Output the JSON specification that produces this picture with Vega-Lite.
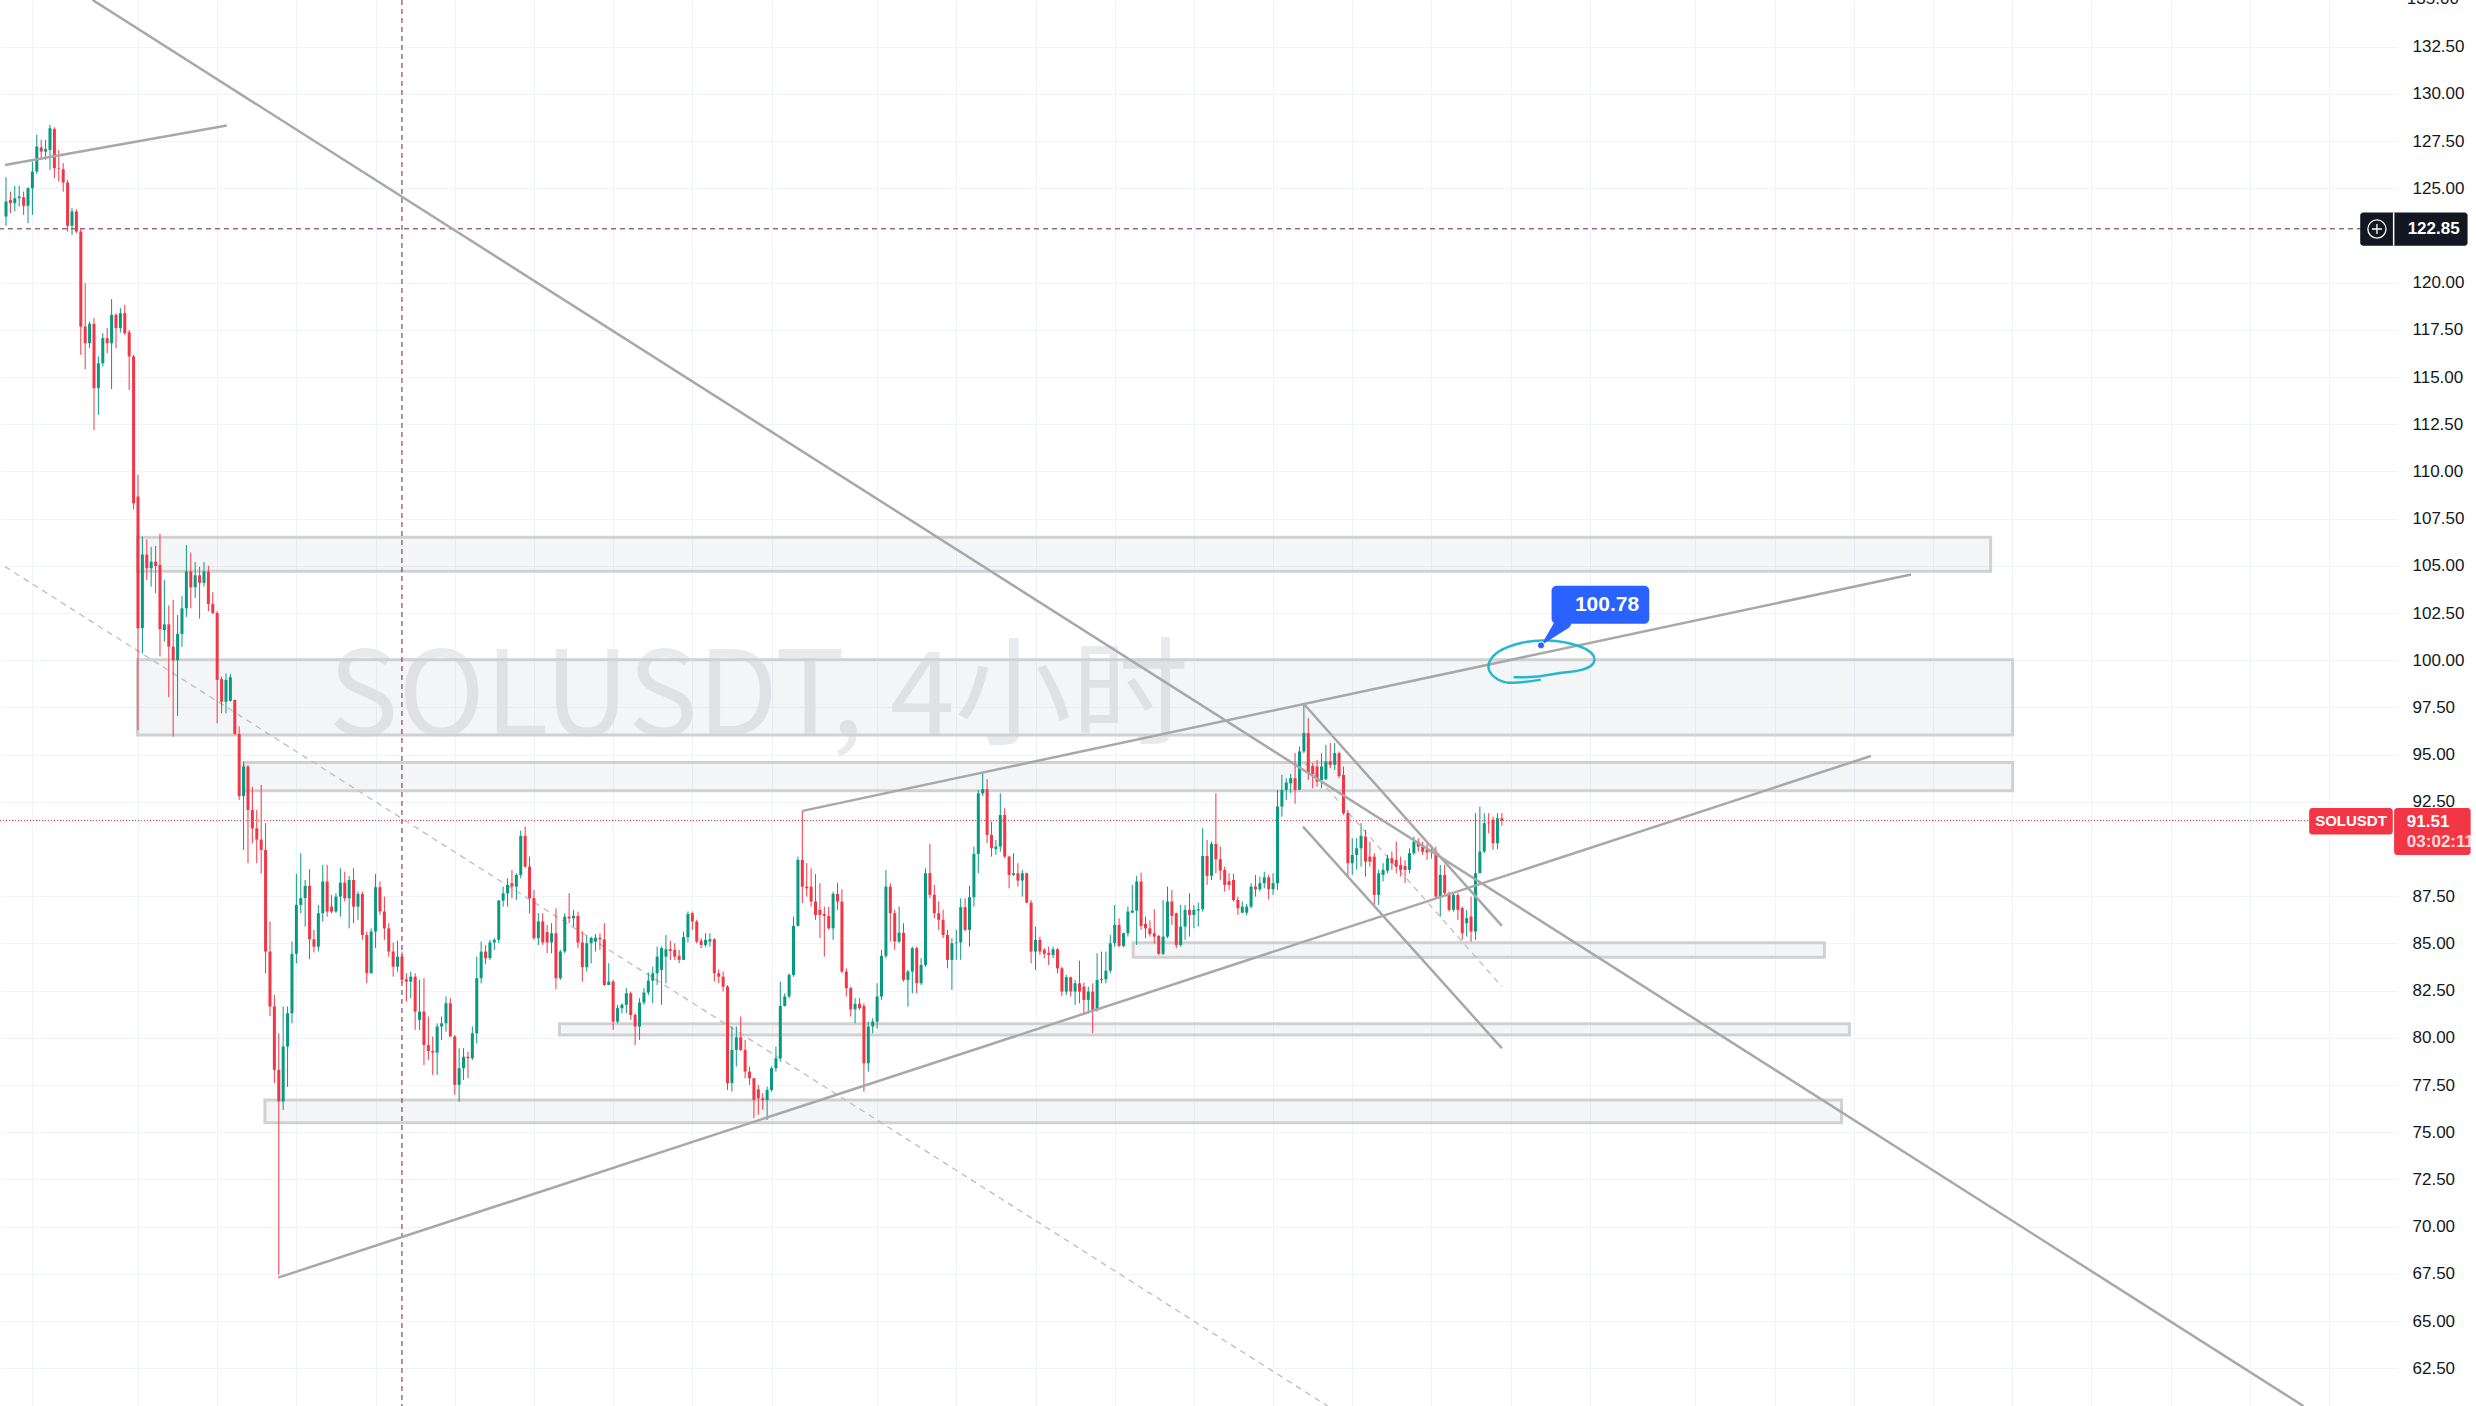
{
"$schema": "https://vega.github.io/schema/vega-lite/v6.json",
"width": 2398, "height": 1406,
"autosize": {"type": "none"},
"padding": {"left": 0, "top": 0, "right": 78, "bottom": 0},
"background": "white",
"config": {"view": {"stroke": null}},
"datasets": {
"candles": [
{"i":0,"o":123.5,"h":125.58,"l":123.01,"c":124.3},{"i":1,"o":124.38,"h":124.82,"l":123.68,"c":124.21},{"i":2,"o":124.21,"h":125.13,"l":123.77,"c":124.47},{"i":3,"o":124.47,"h":125.13,"l":124.03,"c":124.56},{"i":4,"o":124.52,"h":124.82,"l":123.59,"c":124.07},{"i":5,"o":124.07,"h":125.05,"l":123.15,"c":125.0},{"i":6,"o":125.0,"h":126.41,"l":123.59,"c":125.88},{"i":7,"o":125.88,"h":127.83,"l":125.76,"c":127.21},{"i":8,"o":127.16,"h":127.56,"l":126.5,"c":126.94},{"i":9,"o":126.94,"h":127.56,"l":126.5,"c":127.07},
{"i":10,"o":127.03,"h":128.36,"l":125.97,"c":128.18},{"i":11,"o":128.13,"h":128.23,"l":125.53,"c":126.06},{"i":12,"o":126.06,"h":127.03,"l":125.35,"c":126.03},{"i":13,"o":126.01,"h":126.33,"l":124.82,"c":125.3},{"i":14,"o":125.3,"h":125.44,"l":122.71,"c":123.01},{"i":15,"o":123.01,"h":123.94,"l":122.53,"c":123.77},{"i":16,"o":123.77,"h":123.89,"l":122.62,"c":122.71},{"i":17,"o":122.71,"h":122.88,"l":116.17,"c":117.67},{"i":18,"o":117.67,"h":119.97,"l":115.41,"c":116.79},{"i":19,"o":116.79,"h":117.94,"l":116.53,"c":117.82},
{"i":20,"o":117.82,"h":118.12,"l":112.2,"c":114.41},{"i":21,"o":114.41,"h":116.09,"l":113.0,"c":115.73},{"i":22,"o":115.73,"h":117.32,"l":115.56,"c":117.06},{"i":23,"o":117.06,"h":117.59,"l":116.26,"c":116.79},{"i":24,"o":116.79,"h":119.12,"l":114.36,"c":118.29},{"i":25,"o":118.29,"h":118.38,"l":116.53,"c":117.59},{"i":26,"o":117.59,"h":118.65,"l":117.36,"c":118.38},{"i":27,"o":118.38,"h":118.82,"l":117.23,"c":117.32},{"i":28,"o":117.37,"h":117.5,"l":114.32,"c":116.09},{"i":29,"o":116.09,"h":116.18,"l":108.0,"c":108.31},
{"i":30,"o":108.67,"h":109.82,"l":96.3,"c":101.69},{"i":31,"o":101.7,"h":106.55,"l":100.37,"c":105.6},{"i":32,"o":105.6,"h":106.4,"l":104.25,"c":104.87},{"i":33,"o":104.87,"h":106.0,"l":103.9,"c":105.22},{"i":34,"o":105.22,"h":106.05,"l":103.55,"c":104.99},{"i":35,"o":105.05,"h":106.7,"l":100.2,"c":101.64},{"i":36,"o":101.6,"h":104.25,"l":100.99,"c":101.9},{"i":37,"o":101.9,"h":102.9,"l":98.04,"c":100.72},{"i":38,"o":100.72,"h":103.2,"l":95.95,"c":100.0},{"i":39,"o":100.0,"h":102.4,"l":97.05,"c":101.4},
{"i":40,"o":101.4,"h":103.4,"l":100.7,"c":102.75},{"i":41,"o":102.75,"h":106.1,"l":102.3,"c":104.7},{"i":42,"o":104.7,"h":105.7,"l":102.75,"c":103.86},{"i":43,"o":103.86,"h":105.2,"l":103.3,"c":104.5},{"i":44,"o":104.5,"h":104.96,"l":102.2,"c":104.1},{"i":45,"o":104.1,"h":105.2,"l":103.9,"c":104.7},{"i":46,"o":104.7,"h":105.0,"l":102.6,"c":102.98},{"i":47,"o":102.98,"h":103.6,"l":102.45,"c":102.5},{"i":48,"o":102.5,"h":102.6,"l":96.66,"c":98.96},{"i":49,"o":99.0,"h":99.13,"l":97.19,"c":97.8},
{"i":50,"o":97.8,"h":99.3,"l":97.19,"c":98.96},{"i":51,"o":97.85,"h":99.27,"l":97.8,"c":99.1},{"i":52,"o":97.9,"h":97.9,"l":96.04,"c":96.1},{"i":53,"o":96.1,"h":96.5,"l":92.6,"c":92.8},{"i":54,"o":92.8,"h":94.63,"l":89.95,"c":94.37},{"i":55,"o":94.37,"h":94.45,"l":89.25,"c":92.07},{"i":56,"o":92.07,"h":93.3,"l":90.3,"c":91.1},{"i":57,"o":91.1,"h":92.07,"l":89.25,"c":90.5},{"i":58,"o":90.5,"h":93.4,"l":88.7,"c":89.95},{"i":59,"o":89.95,"h":91.37,"l":83.42,"c":84.57},
{"i":60,"o":84.57,"h":86.16,"l":81.16,"c":81.66},{"i":61,"o":81.66,"h":82.27,"l":77.6,"c":78.3},{"i":62,"o":78.3,"h":80.24,"l":67.45,"c":76.63},{"i":63,"o":76.63,"h":81.66,"l":76.18,"c":79.54},{"i":64,"o":79.54,"h":81.66,"l":77.4,"c":81.3},{"i":65,"o":81.3,"h":85.1,"l":80.77,"c":84.45},{"i":66,"o":84.45,"h":88.68,"l":83.95,"c":87.04},{"i":67,"o":87.04,"h":89.78,"l":86.6,"c":87.4},{"i":68,"o":87.4,"h":88.36,"l":85.89,"c":88.05},{"i":69,"o":88.05,"h":88.93,"l":84.16,"c":85.22},
{"i":70,"o":85.22,"h":85.72,"l":84.52,"c":84.83},{"i":71,"o":84.83,"h":87.04,"l":84.57,"c":86.6},{"i":72,"o":86.6,"h":89.16,"l":86.16,"c":88.28},{"i":73,"o":88.28,"h":89.16,"l":86.42,"c":86.69},{"i":74,"o":86.95,"h":87.57,"l":86.6,"c":86.69},{"i":75,"o":86.69,"h":87.66,"l":86.63,"c":87.48},{"i":76,"o":87.48,"h":88.98,"l":86.42,"c":88.22},{"i":77,"o":88.22,"h":88.8,"l":87.22,"c":87.39},{"i":78,"o":87.39,"h":88.57,"l":85.8,"c":88.36},{"i":79,"o":88.36,"h":88.98,"l":86.07,"c":86.95},
{"i":80,"o":86.95,"h":87.75,"l":86.25,"c":87.62},{"i":81,"o":87.62,"h":87.75,"l":85.19,"c":85.45},{"i":82,"o":85.45,"h":85.63,"l":82.89,"c":83.42},{"i":83,"o":83.42,"h":85.8,"l":83.42,"c":85.63},{"i":84,"o":85.63,"h":88.68,"l":84.75,"c":87.98},{"i":85,"o":87.98,"h":88.28,"l":86.51,"c":86.69},{"i":86,"o":86.69,"h":87.48,"l":85.19,"c":85.8},{"i":87,"o":85.8,"h":86.07,"l":84.3,"c":84.57},{"i":88,"o":84.57,"h":85.05,"l":83.24,"c":83.77},{"i":89,"o":83.77,"h":85.15,"l":83.51,"c":84.3},
{"i":90,"o":84.3,"h":84.57,"l":82.89,"c":83.07},{"i":91,"o":83.1,"h":83.42,"l":81.92,"c":82.98},{"i":92,"o":82.98,"h":83.51,"l":82.1,"c":83.24},{"i":93,"o":83.24,"h":83.42,"l":80.42,"c":81.39},{"i":94,"o":80.95,"h":83.07,"l":80.42,"c":81.39},{"i":95,"o":81.39,"h":83.16,"l":78.56,"c":79.62},{"i":96,"o":79.62,"h":81.13,"l":78.83,"c":79.3},{"i":97,"o":79.3,"h":80.07,"l":78.04,"c":79.22},{"i":98,"o":79.22,"h":80.77,"l":78.04,"c":80.6},{"i":99,"o":80.6,"h":81.13,"l":79.89,"c":80.77},
{"i":100,"o":80.77,"h":82.19,"l":80.33,"c":81.83},{"i":101,"o":81.83,"h":82.1,"l":80.07,"c":80.07},{"i":102,"o":80.07,"h":80.15,"l":76.98,"c":77.51},{"i":103,"o":77.51,"h":79.45,"l":76.62,"c":78.39},{"i":104,"o":78.39,"h":79.45,"l":77.77,"c":79.0},{"i":105,"o":79.0,"h":79.27,"l":77.86,"c":78.92},{"i":106,"o":78.92,"h":80.6,"l":78.83,"c":80.24},{"i":107,"o":80.24,"h":84.3,"l":79.71,"c":83.16},{"i":108,"o":83.16,"h":85.1,"l":82.89,"c":84.57},{"i":109,"o":84.57,"h":84.9,"l":83.9,"c":84.22},
{"i":110,"o":84.22,"h":85.19,"l":84.13,"c":85.05},{"i":111,"o":85.05,"h":85.28,"l":84.66,"c":85.19},{"i":112,"o":85.19,"h":87.3,"l":85.01,"c":87.27},{"i":113,"o":87.27,"h":88.01,"l":86.95,"c":87.66},{"i":114,"o":87.66,"h":88.45,"l":86.95,"c":88.1},{"i":115,"o":88.19,"h":88.89,"l":87.39,"c":88.01},{"i":116,"o":88.01,"h":88.72,"l":87.3,"c":88.63},{"i":117,"o":88.63,"h":90.98,"l":88.45,"c":90.7},{"i":118,"o":90.7,"h":91.19,"l":88.98,"c":89.07},{"i":119,"o":89.07,"h":89.6,"l":86.6,"c":87.4},
{"i":120,"o":87.4,"h":87.83,"l":85.19,"c":85.28},{"i":121,"o":85.28,"h":86.6,"l":84.92,"c":86.16},{"i":122,"o":86.16,"h":86.6,"l":84.92,"c":85.05},{"i":123,"o":85.6,"h":85.98,"l":84.48,"c":85.05},{"i":124,"o":85.05,"h":86.07,"l":84.48,"c":85.54},{"i":125,"o":85.54,"h":86.86,"l":82.57,"c":83.16},{"i":126,"o":83.16,"h":84.66,"l":83.07,"c":84.57},{"i":127,"o":84.57,"h":86.6,"l":84.48,"c":86.42},{"i":128,"o":86.42,"h":87.66,"l":86.07,"c":86.33},{"i":129,"o":86.33,"h":86.78,"l":85.89,"c":86.46},
{"i":130,"o":86.46,"h":86.69,"l":84.75,"c":85.05},{"i":131,"o":85.05,"h":85.63,"l":82.98,"c":83.74},{"i":132,"o":83.74,"h":85.45,"l":83.51,"c":85.01},{"i":133,"o":85.01,"h":85.36,"l":83.95,"c":85.28},{"i":134,"o":85.1,"h":85.5,"l":84.57,"c":85.3},{"i":135,"o":85.3,"h":85.54,"l":84.66,"c":85.22},{"i":136,"o":85.22,"h":86.07,"l":82.75,"c":82.8},{"i":137,"o":82.8,"h":83.95,"l":82.8,"c":82.98},{"i":138,"o":82.98,"h":83.07,"l":80.42,"c":80.86},{"i":139,"o":80.86,"h":81.75,"l":80.77,"c":81.57},
{"i":140,"o":81.57,"h":81.83,"l":81.3,"c":81.75},{"i":141,"o":81.75,"h":82.63,"l":81.3,"c":82.36},{"i":142,"o":82.36,"h":82.45,"l":80.95,"c":81.21},{"i":143,"o":81.21,"h":81.3,"l":79.62,"c":80.6},{"i":144,"o":80.6,"h":82.1,"l":79.89,"c":81.87},{"i":145,"o":81.87,"h":82.63,"l":81.75,"c":82.4},{"i":146,"o":82.4,"h":83.46,"l":82.27,"c":83.03},{"i":147,"o":83.03,"h":83.77,"l":81.83,"c":83.42},{"i":148,"o":83.42,"h":84.83,"l":82.8,"c":84.3},{"i":149,"o":83.6,"h":84.83,"l":81.75,"c":84.75},
{"i":150,"o":84.3,"h":85.45,"l":82.89,"c":84.69},{"i":151,"o":84.69,"h":85.15,"l":84.13,"c":84.6},{"i":152,"o":84.66,"h":85.01,"l":84.13,"c":84.3},{"i":153,"o":84.34,"h":84.66,"l":83.95,"c":84.13},{"i":154,"o":84.13,"h":85.63,"l":84.13,"c":85.33},{"i":155,"o":85.33,"h":86.69,"l":85.05,"c":86.56},{"i":156,"o":86.6,"h":86.69,"l":85.72,"c":86.16},{"i":157,"o":86.16,"h":86.25,"l":85.01,"c":85.1},{"i":158,"o":85.15,"h":85.28,"l":84.75,"c":84.92},{"i":159,"o":84.92,"h":85.54,"l":84.83,"c":85.19},
{"i":160,"o":85.1,"h":85.54,"l":84.83,"c":85.22},{"i":161,"o":85.22,"h":85.28,"l":82.98,"c":83.42},{"i":162,"o":83.42,"h":83.63,"l":82.89,"c":83.24},{"i":163,"o":83.24,"h":83.51,"l":82.45,"c":82.71},{"i":164,"o":82.71,"h":82.8,"l":77.24,"c":77.6},{"i":165,"o":77.6,"h":80.6,"l":77.15,"c":79.36},{"i":166,"o":79.36,"h":80.6,"l":78.48,"c":80.03},{"i":167,"o":80.03,"h":81.13,"l":79.3,"c":79.36},{"i":168,"o":79.36,"h":79.89,"l":77.86,"c":78.21},{"i":169,"o":78.21,"h":78.48,"l":77.51,"c":77.86},
{"i":170,"o":77.86,"h":77.86,"l":75.74,"c":76.71},{"i":171,"o":77.27,"h":77.51,"l":75.92,"c":76.8},{"i":172,"o":76.8,"h":77.07,"l":76.18,"c":76.71},{"i":173,"o":76.71,"h":77.42,"l":75.65,"c":77.24},{"i":174,"o":77.24,"h":78.48,"l":77.15,"c":78.39},{"i":175,"o":78.39,"h":79.54,"l":78.21,"c":78.92},{"i":176,"o":78.92,"h":82.98,"l":78.74,"c":81.69},{"i":177,"o":81.69,"h":82.36,"l":81.66,"c":82.19},{"i":178,"o":82.19,"h":83.42,"l":82.1,"c":83.33},{"i":179,"o":83.33,"h":86.42,"l":83.24,"c":85.93},
{"i":180,"o":85.93,"h":89.6,"l":85.89,"c":89.42},{"i":181,"o":89.42,"h":92.04,"l":87.13,"c":88.01},{"i":182,"o":88.01,"h":89.25,"l":87.48,"c":87.92},{"i":183,"o":88.01,"h":88.98,"l":86.95,"c":87.22},{"i":184,"o":87.22,"h":88.68,"l":86.25,"c":86.51},{"i":185,"o":86.78,"h":88.19,"l":85.28,"c":86.51},{"i":186,"o":86.56,"h":86.95,"l":84.3,"c":86.46},{"i":187,"o":86.46,"h":86.95,"l":85.72,"c":85.8},{"i":188,"o":85.8,"h":87.75,"l":85.19,"c":87.62},{"i":189,"o":87.62,"h":88.22,"l":86.78,"c":87.22},
{"i":190,"o":87.22,"h":87.87,"l":83.42,"c":83.51},{"i":191,"o":83.51,"h":83.68,"l":82.19,"c":82.63},{"i":192,"o":82.63,"h":82.71,"l":81.13,"c":81.51},{"i":193,"o":81.51,"h":82.1,"l":80.77,"c":81.8},{"i":194,"o":81.8,"h":82.1,"l":81.48,"c":81.57},{"i":195,"o":81.69,"h":81.83,"l":77.15,"c":78.65},{"i":196,"o":78.65,"h":80.86,"l":78.21,"c":80.6},{"i":197,"o":80.6,"h":81.04,"l":80.24,"c":80.86},{"i":198,"o":80.86,"h":82.89,"l":80.5,"c":82.19},{"i":199,"o":82.19,"h":84.66,"l":82.01,"c":84.34},
{"i":200,"o":84.34,"h":88.89,"l":84.22,"c":88.01},{"i":201,"o":88.01,"h":88.19,"l":85.1,"c":86.6},{"i":202,"o":86.6,"h":86.78,"l":84.66,"c":85.1},{"i":203,"o":85.1,"h":86.95,"l":85.01,"c":85.57},{"i":204,"o":85.57,"h":86.07,"l":82.98,"c":83.07},{"i":205,"o":83.07,"h":83.6,"l":81.66,"c":83.51},{"i":206,"o":83.51,"h":84.83,"l":82.36,"c":84.75},{"i":207,"o":84.75,"h":84.83,"l":82.36,"c":82.89},{"i":208,"o":82.89,"h":84.22,"l":82.8,"c":83.86},{"i":209,"o":83.86,"h":88.98,"l":83.77,"c":88.72},
{"i":210,"o":88.72,"h":90.27,"l":87.39,"c":87.57},{"i":211,"o":87.57,"h":88.1,"l":86.33,"c":86.6},{"i":212,"o":86.6,"h":87.22,"l":85.72,"c":86.25},{"i":213,"o":86.25,"h":86.78,"l":85.28,"c":85.45},{"i":214,"o":85.45,"h":85.72,"l":83.68,"c":84.13},{"i":215,"o":84.13,"h":85.28,"l":82.54,"c":85.01},{"i":216,"o":85.01,"h":85.72,"l":84.13,"c":85.05},{"i":217,"o":85.05,"h":87.39,"l":84.13,"c":86.92},{"i":218,"o":86.92,"h":87.39,"l":85.63,"c":85.72},{"i":219,"o":85.72,"h":88.05,"l":84.83,"c":87.45},
{"i":220,"o":87.45,"h":90.13,"l":86.95,"c":89.74},{"i":221,"o":89.74,"h":93.13,"l":88.72,"c":92.95},{"i":222,"o":92.95,"h":94.05,"l":92.8,"c":93.17},{"i":223,"o":93.17,"h":93.7,"l":90.31,"c":90.75},{"i":224,"o":90.75,"h":91.45,"l":89.6,"c":90.04},{"i":225,"o":90.0,"h":90.48,"l":89.69,"c":90.13},{"i":226,"o":90.13,"h":92.95,"l":89.86,"c":91.8},{"i":227,"o":91.8,"h":92.16,"l":89.51,"c":89.6},{"i":228,"o":89.6,"h":89.63,"l":87.92,"c":88.63},{"i":229,"o":88.63,"h":89.78,"l":88.58,"c":88.72},
{"i":230,"o":88.72,"h":89.25,"l":88.01,"c":88.33},{"i":231,"o":88.33,"h":88.89,"l":87.48,"c":88.72},{"i":232,"o":88.72,"h":88.75,"l":87.13,"c":87.16},{"i":233,"o":87.16,"h":87.3,"l":83.95,"c":84.57},{"i":234,"o":84.57,"h":85.89,"l":83.6,"c":85.19},{"i":235,"o":85.19,"h":85.36,"l":84.39,"c":84.57},{"i":236,"o":84.66,"h":84.75,"l":84.22,"c":84.45},{"i":237,"o":84.5,"h":84.83,"l":83.86,"c":84.39},{"i":238,"o":84.39,"h":84.83,"l":84.22,"c":84.69},{"i":239,"o":84.69,"h":84.75,"l":83.42,"c":83.68},
{"i":240,"o":83.68,"h":83.77,"l":82.22,"c":82.45},{"i":241,"o":82.45,"h":83.33,"l":82.27,"c":83.21},{"i":242,"o":83.21,"h":83.24,"l":82.19,"c":82.45},{"i":243,"o":82.45,"h":83.07,"l":81.75,"c":82.89},{"i":244,"o":82.89,"h":84.09,"l":81.83,"c":82.45},{"i":245,"o":82.71,"h":82.93,"l":81.21,"c":82.01},{"i":246,"o":82.01,"h":82.71,"l":81.3,"c":82.45},{"i":247,"o":82.45,"h":82.89,"l":80.24,"c":81.48},{"i":248,"o":81.48,"h":84.48,"l":81.39,"c":83.07},{"i":249,"o":83.07,"h":84.57,"l":82.89,"c":83.12},
{"i":250,"o":83.1,"h":84.57,"l":82.89,"c":83.56},{"i":251,"o":83.56,"h":85.45,"l":83.42,"c":85.01},{"i":252,"o":85.01,"h":87.04,"l":84.83,"c":85.98},{"i":253,"o":85.98,"h":86.33,"l":84.8,"c":84.87},{"i":254,"o":84.87,"h":85.57,"l":84.8,"c":85.54},{"i":255,"o":85.54,"h":86.95,"l":85.36,"c":86.69},{"i":256,"o":86.63,"h":88.1,"l":86.6,"c":86.74},{"i":257,"o":86.74,"h":88.58,"l":84.92,"c":88.28},{"i":258,"o":88.28,"h":88.75,"l":85.72,"c":85.93},{"i":259,"o":86.03,"h":86.42,"l":85.28,"c":85.8},
{"i":260,"o":85.8,"h":86.22,"l":85.36,"c":85.5},{"i":261,"o":85.54,"h":86.81,"l":85.0,"c":85.36},{"i":262,"o":85.4,"h":85.45,"l":84.39,"c":84.45},{"i":263,"o":84.45,"h":87.3,"l":84.39,"c":85.36},{"i":264,"o":85.36,"h":88.01,"l":85.28,"c":87.22},{"i":265,"o":87.22,"h":87.83,"l":85.98,"c":86.46},{"i":266,"o":86.6,"h":86.63,"l":84.75,"c":84.92},{"i":267,"o":84.92,"h":87.04,"l":84.83,"c":85.89},{"i":268,"o":85.89,"h":87.04,"l":85.19,"c":86.78},{"i":269,"o":86.78,"h":87.66,"l":85.36,"c":86.51},
{"i":270,"o":86.51,"h":87.04,"l":85.8,"c":86.78},{"i":271,"o":86.74,"h":87.16,"l":85.89,"c":86.81},{"i":272,"o":86.81,"h":91.1,"l":86.69,"c":89.63},{"i":273,"o":89.63,"h":90.48,"l":88.1,"c":88.58},{"i":274,"o":88.58,"h":90.39,"l":88.36,"c":90.27},{"i":275,"o":90.27,"h":92.95,"l":88.72,"c":89.46},{"i":276,"o":89.46,"h":90.13,"l":88.36,"c":88.86},{"i":277,"o":88.89,"h":89.07,"l":87.75,"c":88.1},{"i":278,"o":88.3,"h":88.72,"l":87.83,"c":88.1},{"i":279,"o":88.36,"h":88.68,"l":87.22,"c":87.3},
{"i":280,"o":87.3,"h":87.48,"l":86.51,"c":86.86},{"i":281,"o":86.63,"h":87.22,"l":86.6,"c":86.95},{"i":282,"o":86.63,"h":87.1,"l":86.5,"c":86.95},{"i":283,"o":86.95,"h":88.19,"l":86.86,"c":88.01},{"i":284,"o":88.01,"h":88.63,"l":87.48,"c":87.87},{"i":285,"o":87.87,"h":88.54,"l":87.75,"c":88.19},{"i":286,"o":88.19,"h":88.8,"l":87.92,"c":88.5},{"i":287,"o":88.5,"h":88.63,"l":87.34,"c":87.87},{"i":288,"o":87.87,"h":88.72,"l":87.57,"c":88.19},{"i":289,"o":88.19,"h":93.13,"l":87.84,"c":92.25},
{"i":290,"o":92.25,"h":93.93,"l":91.72,"c":93.13},{"i":291,"o":93.13,"h":93.75,"l":92.6,"c":93.52},{"i":292,"o":93.48,"h":93.98,"l":92.96,"c":93.75},{"i":293,"o":93.75,"h":95.08,"l":92.4,"c":93.13},{"i":294,"o":93.13,"h":95.43,"l":93.13,"c":95.17},{"i":295,"o":95.17,"h":97.64,"l":95.08,"c":96.14},{"i":296,"o":96.14,"h":96.93,"l":93.66,"c":94.02},{"i":297,"o":94.4,"h":94.55,"l":93.22,"c":93.98},{"i":298,"o":94.37,"h":94.72,"l":93.31,"c":93.57},{"i":299,"o":93.66,"h":95.08,"l":93.22,"c":94.37},
{"i":300,"o":93.7,"h":95.52,"l":93.66,"c":94.64},{"i":301,"o":94.64,"h":95.61,"l":94.28,"c":94.46},{"i":302,"o":94.46,"h":95.61,"l":94.19,"c":95.08},{"i":303,"o":95.08,"h":95.17,"l":93.75,"c":93.87},{"i":304,"o":93.93,"h":94.37,"l":91.81,"c":91.9},{"i":305,"o":91.9,"h":92.07,"l":88.54,"c":89.25},{"i":306,"o":89.25,"h":90.57,"l":88.63,"c":89.69},{"i":307,"o":89.69,"h":90.57,"l":88.9,"c":90.04},{"i":308,"o":90.04,"h":91.37,"l":89.07,"c":90.7},{"i":309,"o":90.66,"h":91.01,"l":88.54,"c":89.34},
{"i":310,"o":89.6,"h":90.39,"l":89.07,"c":89.34},{"i":311,"o":89.6,"h":89.78,"l":87.04,"c":87.57},{"i":312,"o":87.57,"h":88.9,"l":87.04,"c":88.72},{"i":313,"o":88.63,"h":89.25,"l":88.28,"c":88.9},{"i":314,"o":88.86,"h":89.69,"l":88.72,"c":89.51},{"i":315,"o":89.51,"h":89.86,"l":88.9,"c":89.25},{"i":316,"o":89.43,"h":90.39,"l":88.72,"c":89.07},{"i":317,"o":89.16,"h":89.6,"l":88.54,"c":88.9},{"i":318,"o":89.1,"h":89.4,"l":88.2,"c":88.9},{"i":319,"o":88.9,"h":90.04,"l":88.72,"c":89.78},
{"i":320,"o":89.78,"h":90.66,"l":89.69,"c":90.39},{"i":321,"o":90.39,"h":90.57,"l":89.86,"c":90.13},{"i":322,"o":90.13,"h":90.39,"l":89.69,"c":89.86},{"i":323,"o":89.96,"h":90.31,"l":89.43,"c":89.82},{"i":324,"o":89.92,"h":90.2,"l":89.5,"c":89.82},{"i":325,"o":89.86,"h":90.13,"l":87.39,"c":87.48},{"i":326,"o":87.48,"h":89.16,"l":86.42,"c":88.63},{"i":327,"o":88.63,"h":89.16,"l":87.57,"c":87.66},{"i":328,"o":87.66,"h":87.75,"l":86.69,"c":86.78},{"i":329,"o":86.78,"h":87.66,"l":86.69,"c":87.57},
{"i":330,"o":87.57,"h":87.66,"l":86.25,"c":86.78},{"i":331,"o":86.87,"h":86.95,"l":85.19,"c":85.54},{"i":332,"o":86.07,"h":86.78,"l":85.36,"c":86.34},{"i":333,"o":86.43,"h":87.48,"l":85.1,"c":85.63},{"i":334,"o":85.63,"h":91.9,"l":85.19,"c":88.72},{"i":335,"o":88.72,"h":92.25,"l":88.72,"c":89.87},{"i":336,"o":89.87,"h":91.9,"l":89.78,"c":91.37},{"i":337,"o":91.41,"h":91.9,"l":90.84,"c":91.37},{"i":338,"o":91.55,"h":91.72,"l":89.96,"c":90.31},{"i":339,"o":90.31,"h":91.9,"l":89.99,"c":91.63},
{"i":340,"o":91.63,"h":91.9,"l":91.23,"c":91.51}
],
"rects": [
{"i":29.88,"i2":451.1,"p":106.52,"p2":104.71},
{"i":29.88,"i2":456.1,"p":100.02,"p2":96.04},
{"i":54.1,"i2":456.1,"p":94.58,"p2":93.09},
{"i":256.2,"i2":413.3,"p":85.04,"p2":84.27},
{"i":125.8,"i2":419.0,"p":80.74,"p2":80.15},
{"i":58.85,"i2":417.2,"p":76.71,"p2":75.5}
],
"trend": [
{"g":"L1","k":1,"i":19.69,"p":134.97},{"g":"L1","k":2,"i":522.2,"p":60.5},
{"g":"L2","k":1,"i":-0.23,"p":126.23},{"g":"L2","k":2,"i":50.18,"p":128.32},
{"g":"L3","k":1,"i":181.1,"p":92.02},{"g":"L3","k":2,"i":433.0,"p":104.54},
{"g":"L4","k":1,"i":61.86,"p":67.3},{"g":"L4","k":2,"i":423.9,"p":94.93},
{"g":"L5","k":1,"i":295.2,"p":97.63},{"g":"L5","k":2,"i":340.0,"p":85.93},
{"g":"L6","k":1,"i":294.8,"p":91.19},{"g":"L6","k":2,"i":340.0,"p":79.45}
],
"dashed": [
{"g":"D1","k":1,"i":-0.23,"p":104.96},{"g":"D1","k":2,"i":300.4,"p":60.5},
{"g":"D2","k":1,"i":295.2,"p":94.55},{"g":"D2","k":2,"i":340.0,"p":82.71}
],
"scribble": [
{"k":1,"i":342.9,"p":99.1},{"k":2,"i":347.6,"p":99.13},{"k":3,"i":352.9,"p":99.31},{"k":4,"i":358.1,"p":99.49},{"k":5,"i":360.8,"p":99.84},{"k":6,"i":360.4,"p":100.37},{"k":7,"i":356.7,"p":100.81},{"k":8,"i":350.6,"p":101.04},{"k":9,"i":344.6,"p":100.93},{"k":10,"i":339.3,"p":100.46},{"k":11,"i":337.0,"p":99.76},{"k":12,"i":338.2,"p":99.13},{"k":13,"i":341.6,"p":98.81},{"k":14,"i":348.6,"p":98.96}
]
},
"layer": [
{
"data": {"values": [{"i": 73.3, "p": 96.04, "t": "SOLUSDT, 4小时"}]},
"mark": {"type": "text", "align": "left", "baseline": "alphabetic", "font": "Noto Sans CJK SC", "fontSize": 117, "color": "#e9eaed"},
"encoding": {
"x": {"field": "i", "type": "quantitative", "title": null, "scale": {"domain": [-0.2263, 542.55], "nice": false, "zero": false},
"axis": {"orient": "bottom", "values": [6,30,48,66,84,102,120,138,156,174,198,216,234,252,270,288,306,324,342,360,384,402,420,438,456,474,492,510,528], "grid": true, "gridColor": "#f0f3fa", "gridWidth": 1, "labels": false, "ticks": false, "domain": false, "title": null}},
"y": {"field": "p", "type": "quantitative", "title": null, "scale": {"domain": [60.5, 134.97], "nice": false, "zero": false},
"axis": {"orient": "right", "values": [62.5,65,67.5,70,72.5,75,77.5,80,82.5,85,87.5,92.5,95,97.5,100,102.5,105,107.5,110,112.5,115,117.5,120,125,127.5,130,132.5], "format": ".2f", "grid": true, "gridColor": "#f0f3fa", "gridWidth": 1, "ticks": false, "tickSize": 0, "domain": false, "title": null, "labelFont": "Liberation Sans", "labelFontSize": 17, "labelColor": "#131722", "labelPadding": 14, "labelAlign": "left", "labelOverlap": false, "labelFlush": false, "labelBound": false}},
"text": {"field": "t"}
}
},
{
"data": {"values": [{"i": 545.7, "p": 135.0, "t": "135.00"}]},
"mark": {"type": "text", "align": "left", "baseline": "middle", "font": "Liberation Sans", "fontSize": 17, "color": "#131722"},
"encoding": {
"x": {"field": "i", "type": "quantitative", "title": null, "scale": {"domain": [-0.2263, 542.55], "nice": false, "zero": false}},
"y": {"field": "p", "type": "quantitative", "title": null, "scale": {"domain": [60.5, 134.97], "nice": false, "zero": false}},
"text": {"field": "t"}
}
},
{
"data": {"name": "rects"},
"mark": {"type": "rect", "fill": "#787b86", "fillOpacity": 0.08, "stroke": "#d1d1d1", "strokeWidth": 3},
"encoding": {
"x": {"field": "i", "type": "quantitative", "title": null, "scale": {"domain": [-0.2263, 542.55], "nice": false, "zero": false}},
"x2": {"field": "i2"},
"y": {"field": "p", "type": "quantitative", "title": null, "scale": {"domain": [60.5, 134.97], "nice": false, "zero": false}},
"y2": {"field": "p2"}
}
},
{
"data": {"name": "dashed"},
"mark": {"type": "line", "color": "#bdbdbd", "strokeWidth": 1.3, "strokeDash": [6, 5]},
"encoding": {
"x": {"field": "i", "type": "quantitative", "title": null, "scale": {"domain": [-0.2263, 542.55], "nice": false, "zero": false}},
"y": {"field": "p", "type": "quantitative", "title": null, "scale": {"domain": [60.5, 134.97], "nice": false, "zero": false}},
"detail": {"field": "g"},
"order": {"field": "k"}
}
},
{
"data": {"values": [{"i": 90}]},
"mark": {"type": "rule", "color": "#6e1f45", "strokeWidth": 1, "strokeDash": [5, 4]},
"encoding": {
"x": {"field": "i", "type": "quantitative", "title": null, "scale": {"domain": [-0.2263, 542.55], "nice": false, "zero": false}}
}
},
{
"data": {"values": [{"p": 122.85}]},
"mark": {"type": "rule", "color": "#6e1f45", "strokeWidth": 1, "strokeDash": [5, 4]},
"encoding": {
"y": {"field": "p", "type": "quantitative", "title": null, "scale": {"domain": [60.5, 134.97], "nice": false, "zero": false}}
}
},
{
"data": {"values": [{"p": 91.51}]},
"mark": {"type": "rule", "color": "#f23645", "strokeWidth": 1, "strokeDash": [1, 2]},
"encoding": {
"y": {"field": "p", "type": "quantitative", "title": null, "scale": {"domain": [60.5, 134.97], "nice": false, "zero": false}}
}
},
{
"data": {"name": "candles"},
"mark": {"type": "rule", "strokeWidth": 1},
"encoding": {
"x": {"field": "i", "type": "quantitative", "title": null, "scale": {"domain": [-0.2263, 542.55], "nice": false, "zero": false}},
"y": {"field": "l", "type": "quantitative", "title": null, "scale": {"domain": [60.5, 134.97], "nice": false, "zero": false}},
"y2": {"field": "h"},
"color": {"condition": {"test": "datum.c >= datum.o", "value": "#089981"}, "value": "#f23645"}
}
},
{
"data": {"name": "candles"},
"mark": {"type": "bar", "size": 3},
"encoding": {
"x": {"field": "i", "type": "quantitative", "title": null, "scale": {"domain": [-0.2263, 542.55], "nice": false, "zero": false}},
"y": {"field": "o", "type": "quantitative", "title": null, "scale": {"domain": [60.5, 134.97], "nice": false, "zero": false}},
"y2": {"field": "c"},
"color": {"condition": {"test": "datum.c >= datum.o", "value": "#089981"}, "value": "#f23645"}
}
},
{
"data": {"name": "trend"},
"mark": {"type": "line", "color": "#a8a8a8", "strokeWidth": 2.5},
"encoding": {
"x": {"field": "i", "type": "quantitative", "title": null, "scale": {"domain": [-0.2263, 542.55], "nice": false, "zero": false}},
"y": {"field": "p", "type": "quantitative", "title": null, "scale": {"domain": [60.5, 134.97], "nice": false, "zero": false}},
"detail": {"field": "g"},
"order": {"field": "k"}
}
},
{
"data": {"name": "scribble"},
"mark": {"type": "line", "color": "#22b8cf", "strokeWidth": 2.5, "interpolate": "cardinal", "strokeCap": "round"},
"encoding": {
"x": {"field": "i", "type": "quantitative", "title": null, "scale": {"domain": [-0.2263, 542.55], "nice": false, "zero": false}},
"y": {"field": "p", "type": "quantitative", "title": null, "scale": {"domain": [60.5, 134.97], "nice": false, "zero": false}},
"order": {"field": "k"}
}
},
{
"data": {"values": [{"k": 1, "i": 354.0, "p": 102.03, "w": 16}, {"k": 2, "i": 349.2, "p": 100.86, "w": 1}]},
"mark": {"type": "trail", "color": "#2962ff"},
"encoding": {
"x": {"field": "i", "type": "quantitative", "title": null, "scale": {"domain": [-0.2263, 542.55], "nice": false, "zero": false}},
"y": {"field": "p", "type": "quantitative", "title": null, "scale": {"domain": [60.5, 134.97], "nice": false, "zero": false}},
"size": {"field": "w", "type": "quantitative", "scale": null, "legend": null},
"order": {"field": "k"}
}
},
{
"data": {"values": [{"i": 351.3, "i2": 373.5, "p": 103.94, "p2": 101.93}]},
"mark": {"type": "rect", "fill": "#2962ff", "cornerRadius": 5},
"encoding": {
"x": {"field": "i", "type": "quantitative", "title": null, "scale": {"domain": [-0.2263, 542.55], "nice": false, "zero": false}},
"x2": {"field": "i2"},
"y": {"field": "p", "type": "quantitative", "title": null, "scale": {"domain": [60.5, 134.97], "nice": false, "zero": false}},
"y2": {"field": "p2"}
}
},
{
"data": {"values": [{"i": 348.9, "p": 100.79}]},
"mark": {"type": "point", "shape": "circle", "filled": true, "color": "#2962ff", "size": 50, "stroke": "white", "strokeWidth": 1, "opacity": 1},
"encoding": {
"x": {"field": "i", "type": "quantitative", "title": null, "scale": {"domain": [-0.2263, 542.55], "nice": false, "zero": false}},
"y": {"field": "p", "type": "quantitative", "title": null, "scale": {"domain": [60.5, 134.97], "nice": false, "zero": false}}
}
},
{
"data": {"values": [{"i": 363.9, "p": 102.93, "t": "100.78"}]},
"mark": {"type": "text", "align": "center", "baseline": "middle", "font": "Liberation Sans", "fontWeight": "bold", "fontSize": 21, "color": "white"},
"encoding": {
"x": {"field": "i", "type": "quantitative", "title": null, "scale": {"domain": [-0.2263, 542.55], "nice": false, "zero": false}},
"y": {"field": "p", "type": "quantitative", "title": null, "scale": {"domain": [60.5, 134.97], "nice": false, "zero": false}},
"text": {"field": "t"}
}
},
{
"data": {"values": [
{"i": 535.1, "i2": 559.5, "p": 123.71, "p2": 121.96, "f": "#131722"},
{"i": 523.5, "i2": 542.5, "p": 92.18, "p2": 90.77, "f": "#f23645"},
{"i": 542.8, "i2": 560.2, "p": 92.18, "p2": 89.69, "f": "#f23645"}
]},
"mark": {"type": "rect", "cornerRadius": 3},
"encoding": {
"x": {"field": "i", "type": "quantitative", "title": null, "scale": {"domain": [-0.2263, 542.55], "nice": false, "zero": false}},
"x2": {"field": "i2"},
"y": {"field": "p", "type": "quantitative", "title": null, "scale": {"domain": [60.5, 134.97], "nice": false, "zero": false}},
"y2": {"field": "p2"},
"fill": {"field": "f", "type": "nominal", "scale": null, "legend": null}
}
},
{
"data": {"values": [{"i": 542.7, "p": 123.71, "p2": 121.96}]},
"mark": {"type": "rule", "color": "white", "strokeWidth": 1.5},
"encoding": {
"x": {"field": "i", "type": "quantitative", "title": null, "scale": {"domain": [-0.2263, 542.55], "nice": false, "zero": false}},
"y": {"field": "p", "type": "quantitative", "title": null, "scale": {"domain": [60.5, 134.97], "nice": false, "zero": false}},
"y2": {"field": "p2"}
}
},
{
"data": {"values": [{"i": 538.9, "p": 122.84}]},
"mark": {"type": "point", "shape": "circle", "filled": false, "stroke": "white", "strokeWidth": 1.3, "size": 330, "opacity": 1},
"encoding": {
"x": {"field": "i", "type": "quantitative", "title": null, "scale": {"domain": [-0.2263, 542.55], "nice": false, "zero": false}},
"y": {"field": "p", "type": "quantitative", "title": null, "scale": {"domain": [60.5, 134.97], "nice": false, "zero": false}}
}
},
{
"data": {"values": [{"i": 538.9, "p": 122.84}]},
"mark": {"type": "point", "shape": "M-0.55,0L0.55,0M0,-0.55L0,0.55", "filled": false, "stroke": "white", "strokeWidth": 1.3, "size": 330, "opacity": 1},
"encoding": {
"x": {"field": "i", "type": "quantitative", "title": null, "scale": {"domain": [-0.2263, 542.55], "nice": false, "zero": false}},
"y": {"field": "p", "type": "quantitative", "title": null, "scale": {"domain": [60.5, 134.97], "nice": false, "zero": false}}
}
},
{
"data": {"values": [{"i": 557.7, "p": 122.85, "t": "122.85"}]},
"mark": {"type": "text", "align": "right", "baseline": "middle", "font": "Liberation Sans", "fontWeight": "bold", "fontSize": 17, "color": "white"},
"encoding": {
"x": {"field": "i", "type": "quantitative", "title": null, "scale": {"domain": [-0.2263, 542.55], "nice": false, "zero": false}},
"y": {"field": "p", "type": "quantitative", "title": null, "scale": {"domain": [60.5, 134.97], "nice": false, "zero": false}},
"text": {"field": "t"}
}
},
{
"data": {"values": [
{"i": 545.7, "p": 91.45, "t": "91.51", "op": 1},
{"i": 545.7, "p": 90.35, "t": "03:02:11", "op": 0.82}
]},
"mark": {"type": "text", "align": "left", "baseline": "middle", "font": "Liberation Sans", "fontWeight": "bold", "fontSize": 17, "color": "white"},
"encoding": {
"x": {"field": "i", "type": "quantitative", "title": null, "scale": {"domain": [-0.2263, 542.55], "nice": false, "zero": false}},
"y": {"field": "p", "type": "quantitative", "title": null, "scale": {"domain": [60.5, 134.97], "nice": false, "zero": false}},
"text": {"field": "t"},
"opacity": {"field": "op", "type": "quantitative", "scale": null, "legend": null}
}
},
{
"data": {"values": [{"i": 533.0, "p": 91.48, "t": "SOLUSDT"}]},
"mark": {"type": "text", "align": "center", "baseline": "middle", "font": "Liberation Sans", "fontWeight": "bold", "fontSize": 15, "color": "white"},
"encoding": {
"x": {"field": "i", "type": "quantitative", "title": null, "scale": {"domain": [-0.2263, 542.55], "nice": false, "zero": false}},
"y": {"field": "p", "type": "quantitative", "title": null, "scale": {"domain": [60.5, 134.97], "nice": false, "zero": false}},
"text": {"field": "t"}
}
}
]
}
